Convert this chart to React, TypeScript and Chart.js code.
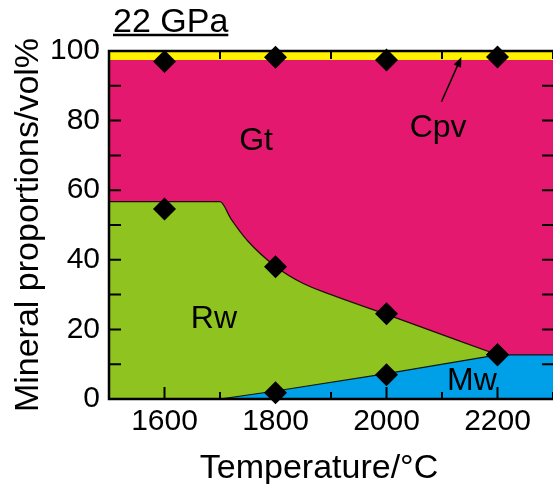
import { useEffect, useRef } from 'react';
import { Chart, registerables } from 'chart.js';

Chart.register(...registerables);

const FONT = '"Liberation Sans", Arimo, Arial, Helvetica, sans-serif';

const YELLOW = '#FFF100';
const MAGENTA = '#E4186E';
const GREEN = '#8FC31F';
const BLUE = '#00A0E8';

// axis ticks
const xTickValues = [1600, 1800, 2000, 2200];
const xMinorTickValues = [1500, 1700, 1900, 2100, 2300];
const yTickValues = [0, 20, 40, 60, 80, 100];
const yMinorTickValues = [10, 30, 50, 70, 90];

// measured points (diamonds)
const measuredT = [1600, 1800, 2000, 2200];
const cpvGtMeasured = [97.0, 98.2, 97.4, 98.3];
const gtRwMeasured = [54.6, 38.0, 24.5, 12.7];
const rwMwMeasured = [null, 1.8, 7.0, 12.7];

// phase boundaries (upper edge of each field)
const cpvTopT = [1500, 2300];
const cpvTopV = [100, 100];
const gtTopT = [1500, 2300];
const gtTopV = [97.4, 97.4];
const rwTopT = [1500, 1700, 1720, 1750, 1800, 1850, 1900, 2000, 2200];
const rwTopV = [56.7, 56.7, 51.7, 45.4, 38.1, 33.2, 30.0, 24.3, 12.7];
const mwTopT = [1700, 1800, 2000, 2200, 2300];
const mwTopV = [0, 2.3, 7.3, 12.7, 12.7];

// field labels
const phaseLabels = ['Gt', 'Cpv', 'Rw', 'Mw'];
const labelT = [1765, 2093, 1689, 2154];
const labelV = [74, 77.8, 22.9, 5.2];

// arrow to Cpv field
const arrowFromT = 2099;
const arrowFromV = 85.4;
const arrowToT = 2135;
const arrowToV = 98.3;

const pressureLabel = '22 GPa';
const xTitle = 'Temperature/°C';
const yTitle = 'Mineral proportions/vol%';

const zip = (xs: number[], ys: (number | null)[]) =>
  xs.map((x, i) => ({ x, y: ys[i] })).filter((p) => p.y !== null) as { x: number; y: number }[];

const framePlugin = {
  id: 'frame',
  afterDatasetsDraw(chart: any) {
    const { ctx, chartArea: a, scales } = chart;
    const x = scales.x;
    const y = scales.y;
    ctx.save();
    ctx.fillStyle = '#000';
    ctx.strokeStyle = '#000';

    // field labels
    ctx.font = `32px ${FONT}`;
    ctx.textAlign = 'center';
    ctx.textBaseline = 'middle';
    phaseLabels.forEach((t, i) => {
      ctx.fillText(t, x.getPixelForValue(labelT[i]), y.getPixelForValue(labelV[i]));
    });

    // arrow
    const x0 = x.getPixelForValue(arrowFromT);
    const y0 = y.getPixelForValue(arrowFromV);
    const x1 = x.getPixelForValue(arrowToT);
    const y1 = y.getPixelForValue(arrowToV);
    const ang = Math.atan2(y1 - y0, x1 - x0);
    ctx.lineWidth = 1.5;
    ctx.beginPath();
    ctx.moveTo(x0, y0);
    ctx.lineTo(x1 - Math.cos(ang) * 6, y1 - Math.sin(ang) * 6);
    ctx.stroke();
    ctx.beginPath();
    ctx.moveTo(x1, y1);
    ctx.lineTo(x1 - Math.cos(ang) * 10 + Math.sin(ang) * 4, y1 - Math.sin(ang) * 10 - Math.cos(ang) * 4);
    ctx.lineTo(x1 - Math.cos(ang) * 10 - Math.sin(ang) * 4, y1 - Math.sin(ang) * 10 + Math.cos(ang) * 4);
    ctx.closePath();
    ctx.fill();

    // ticks (inward)
    ctx.lineWidth = 2;
    ctx.beginPath();
    [...yTickValues, ...yMinorTickValues].forEach((v) => {
      const py = y.getPixelForValue(v);
      ctx.moveTo(a.left, py);
      ctx.lineTo(a.left + 12, py);
      ctx.moveTo(a.right, py);
      ctx.lineTo(a.right - 11, py);
    });
    xTickValues.forEach((v) => {
      const px = x.getPixelForValue(v);
      ctx.moveTo(px, a.bottom);
      ctx.lineTo(px, a.bottom - 12);
      ctx.moveTo(px, a.top);
      ctx.lineTo(px, a.top + 12);
    });
    xMinorTickValues.forEach((v) => {
      const px = x.getPixelForValue(v);
      ctx.moveTo(px, a.bottom);
      ctx.lineTo(px, a.bottom - 7);
      ctx.moveTo(px, a.top);
      ctx.lineTo(px, a.top + 8);
    });
    ctx.stroke();

    // frame (left, top, bottom)
    ctx.lineWidth = 2.5;
    ctx.beginPath();
    ctx.moveTo(a.right + 2, a.top);
    ctx.lineTo(a.left, a.top);
    ctx.lineTo(a.left, a.bottom);
    ctx.lineTo(a.right + 2, a.bottom);
    ctx.stroke();

    // pressure label with underline
    ctx.font = `34px ${FONT}`;
    ctx.textAlign = 'left';
    ctx.textBaseline = 'alphabetic';
    const lx = a.left + 4;
    const ly = a.top - 19;
    ctx.fillText(pressureLabel, lx, ly);
    const w = ctx.measureText(pressureLabel).width;
    ctx.lineWidth = 2.5;
    ctx.beginPath();
    ctx.moveTo(lx, ly + 3);
    ctx.lineTo(lx + w, ly + 3);
    ctx.stroke();

    // x axis title
    ctx.textAlign = 'center';
    ctx.fillText(xTitle, (a.left + a.right) / 2 - 12, a.bottom + 79);
    ctx.restore();
  },
};

export default function App() {
  const ref = useRef<HTMLCanvasElement | null>(null);

  useEffect(() => {
    if (!ref.current) return;
    const tickFont = { family: FONT, size: 30 };
    const diamond = {
      pointStyle: 'rectRot',
      pointRadius: 11.5,
      backgroundColor: '#000',
      borderColor: '#000',
      borderWidth: 0,
      clip: false,
      order: 0,
    };
    const chart = new Chart(ref.current, {
      type: 'scatter',
      data: {
        datasets: [
          {
            type: 'line',
            label: 'Cpv',
            data: zip(cpvTopT, cpvTopV),
            fill: 'origin',
            backgroundColor: YELLOW,
            borderWidth: 0,
            pointRadius: 0,
            order: 4,
          },
          {
            type: 'line',
            label: 'Gt',
            data: zip(gtTopT, gtTopV),
            fill: 'origin',
            backgroundColor: MAGENTA,
            borderWidth: 0,
            pointRadius: 0,
            order: 3,
          },
          {
            type: 'line',
            label: 'Rw',
            data: zip(rwTopT, rwTopV),
            fill: 'origin',
            backgroundColor: GREEN,
            borderColor: 'rgba(0,0,0,0.85)',
            borderWidth: 1.2,
            pointRadius: 0,
            cubicInterpolationMode: 'monotone',
            order: 2,
          },
          {
            type: 'line',
            label: 'Mw',
            data: zip(mwTopT, mwTopV),
            fill: 'origin',
            backgroundColor: BLUE,
            borderColor: 'rgba(0,0,0,0.85)',
            borderWidth: 1.2,
            pointRadius: 0,
            order: 1,
          },
          { label: 'Cpv+Gt measured', data: zip(measuredT, cpvGtMeasured), ...diamond },
          { label: 'Gt/Rw measured', data: zip(measuredT, gtRwMeasured), ...diamond },
          { label: 'Rw/Mw measured', data: zip(measuredT, rwMwMeasured), ...diamond },
        ] as any,
      },
      options: {
        animation: false,
        responsive: false,
        layout: { autoPadding: false, padding: { top: 51, left: 0, right: 0, bottom: 0 } },
        plugins: {
          legend: { display: false },
          tooltip: { enabled: false },
        },
        scales: {
          x: {
            type: 'linear',
            min: 1500,
            max: 2300,
            afterBuildTicks: (ax: any) => {
              ax.ticks = xTickValues.map((v) => ({ value: v }));
            },
            afterFit: (s: any) => {
              s.height = 85;
              s.paddingLeft = 0;
              s.paddingRight = 0;
            },
            ticks: {
              font: tickFont,
              color: '#000',
              padding: 5,
              maxRotation: 0,
              autoSkip: false,
              callback: (v: any) => String(v),
            },
            grid: { display: false, drawTicks: false },
            border: { display: false },
          },
          y: {
            type: 'linear',
            min: 0,
            max: 100,
            afterBuildTicks: (ax: any) => {
              ax.ticks = yTickValues.map((v) => ({ value: v }));
            },
            afterFit: (s: any) => {
              s.width = 109;
            },
            ticks: { font: tickFont, color: '#000', padding: 9, callback: (v: any) => String(v) },
            grid: { display: false, drawTicks: false },
            border: { display: false },
            title: {
              display: true,
              text: yTitle,
              color: '#000',
              font: { family: FONT, size: 34 },
              padding: { top: 8, bottom: 0 },
            },
          },
        },
      } as any,
      plugins: [framePlugin],
    });
    return () => chart.destroy();
  }, []);

  return (
    <div style={{ position: 'absolute', left: 0, top: 0, width: 553, height: 484, background: '#fff' }}>
      <canvas ref={ref} width={553} height={484} style={{ display: 'block' }} />
    </div>
  );
}
